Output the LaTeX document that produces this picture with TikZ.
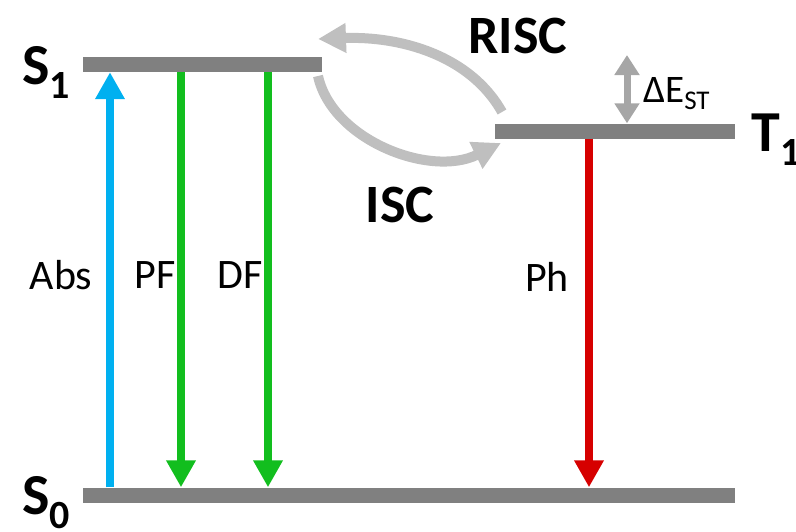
\documentclass[tikz,border=0pt]{standalone}
\usepackage{fontspec}
\setmainfont{Carlito}
\usetikzlibrary{arrows.meta}
\definecolor{bargray}{HTML}{808080}
\definecolor{curvegray}{HTML}{BFBFBF}
\definecolor{dgray}{HTML}{A6A6A6}
\definecolor{absblue}{HTML}{00B0F0}
\definecolor{flgreen}{HTML}{12BE1E}
\definecolor{phred}{HTML}{D60000}
\tikzset{
  level/.style={fill=bargray, draw=none, inner sep=0pt, minimum height=15pt},
  trans/.style={line width=8pt, -{Triangle[width=28pt,length=27pt]}},
  cross/.style={line width=10pt, draw=curvegray, -{Triangle[width=28pt,length=28pt]}},
  statelbl/.style={font=\fontsize{58}{60}\selectfont\bfseries, inner sep=0pt},
  translbl/.style={font=\fontsize{42}{44}\selectfont, inner sep=0pt},
  crosslbl/.style={font=\fontsize{54}{56}\selectfont\bfseries, inner sep=0pt}
}
\newcommand{\lvlname}[2]{#1\raisebox{-14pt}{\fontsize{40}{42}\selectfont #2}}
\begin{document}
\begin{tikzpicture}[x=1pt,y=-1pt]
\useasboundingbox (0,0) rectangle (796,531);
% levels
\node[level, minimum width=239pt] (S1) at (202.5,64.5) {};
\node[level, minimum width=240pt] (T1) at (614.5,131) {};
\node[level, minimum width=652pt] (S0) at (409,495) {};
% x positions
\coordinate (xabs) at (110,0);
\coordinate (xpf) at (181,0);
\coordinate (xdf) at (268,0);
\coordinate (xph) at (589,0);
\coordinate (xde) at (627,0);
% transitions
\draw[trans, absblue] (S0.north -| xabs) -- (S1.south -| xabs);
\draw[trans, flgreen] (S1.south -| xpf) -- (S0.north -| xpf);
\draw[trans, flgreen] (S1.south -| xdf) -- (S0.north -| xdf);
\draw[trans, phred] (T1.south -| xph) -- (S0.north -| xph);
% Delta E
\coordinate (detop) at (627,55);
\draw[line width=7pt, draw=dgray, {Triangle[width=24pt,length=20pt]}-{Triangle[width=24pt,length=20pt]}] (detop) -- (T1.north -| xde);
% ISC / RISC
\coordinate (risc0) at (502,112);
\coordinate (risc1) at (318,39);
\coordinate (isc0) at (318,76);
\coordinate (isc1) at (501,143);
\draw[cross] (risc0) .. controls (470,55) and (400,36) .. (risc1);
\draw[cross] (isc0) .. controls (332,140) and (430,178) .. (isc1);
% labels
\node[statelbl] (lS1) at (46,72) {\lvlname{S}{1}};
\node[statelbl] (lT1) at (776,140) {\lvlname{T}{1}};
\node[statelbl] (lS0) at (46,503) {\lvlname{S}{0}};
\node[translbl] (lAbs) at (61,275) {Abs};
\node[translbl] (lPF) at (155,275) {PF};
\node[translbl] (lDF) at (240,275) {DF};
\node[translbl] (lPh) at (547,277) {Ph};
\node[crosslbl] (lRISC) at (518,36) {RISC};
\node[crosslbl] (lISC) at (400,205) {ISC};
\node[font=\fontsize{39}{40}\selectfont, inner sep=0pt, anchor=west] (lDE) at (643,94) {ΔE\raisebox{-7pt}{\fontsize{27}{28}\selectfont ST}};
\end{tikzpicture}
\end{document}
